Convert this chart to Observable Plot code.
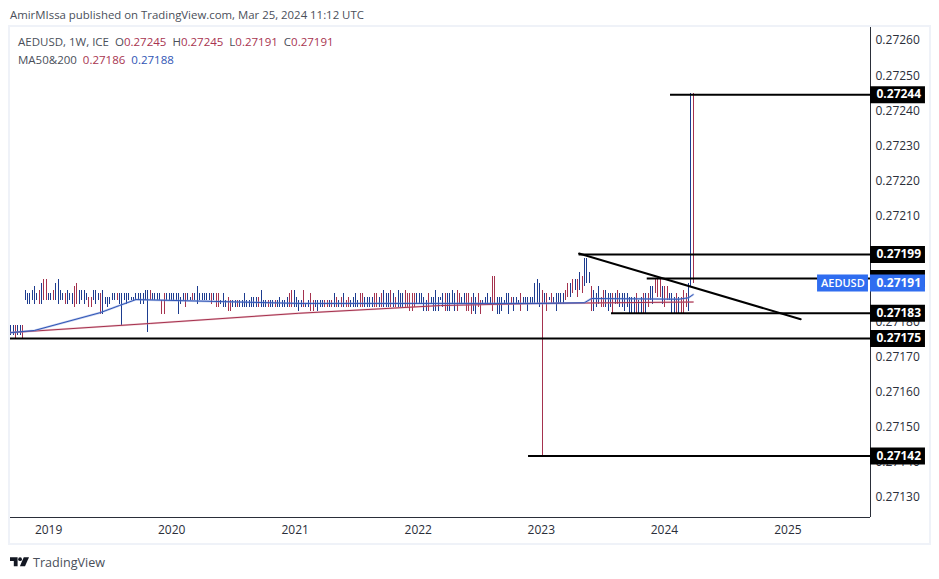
<!DOCTYPE html>
<html>
<head>
<meta charset="utf-8">
<script src="https://cdn.jsdelivr.net/npm/d3@7"></script>
<script src="https://cdn.jsdelivr.net/npm/@observablehq/plot@0.6"></script>
<style>
  html, body { margin: 0; padding: 0; background: #fff; width: 939px; height: 579px; overflow: hidden; font-family: "Open Sans", sans-serif; color: #131722; }
  #publish { height: 27px; box-sizing: border-box; padding: 7px 0 0 10px; font-size: 11.4px; line-height: 16px; color: #4a4f5a; white-space: nowrap; }
  #chart { position: relative; width: 939px; height: 516px; }
  #chart svg { display: block; }
  #border { position: absolute; left: 8px; top: -2px; width: 919px; height: 516px; border: 2px solid #eff2f8; pointer-events: none; }
  #legend { position: absolute; left: 18px; top: 6px; font-size: 11.5px; line-height: 18px; color: #4a4f5a; white-space: pre; }
  #legend .r { color: #a8344f; }
  #legend .b { color: #2f55b5; }
  #footer { height: 36px; box-sizing: border-box; padding: 2px 0 0 10px; display: flex; align-items: center; gap: 4px; font-size: 12.6px; color: #4a4f5a; }
  #footer svg { display: block; }
</style>
</head>
<body>
<div id="publish">AmirMIssa published on TradingView.com, Mar 25, 2024 11:12 UTC</div>
<div id="chart">
  <div id="legend">AEDUSD, 1W, ICE  O<span class="r">0.27245</span>  H<span class="r">0.27245</span>  L<span class="r">0.27191</span>  C<span class="r">0.27191</span>
MA50&amp;200  <span class="r">0.27186</span>  <span class="b">0.27188</span></div>
  <div id="border"></div>
</div>
<div id="footer">
  <svg width="19" height="10" viewBox="0 0 20 10"><path fill="#131722" d="M0 0h8v9.5H4V4H0z"/><circle cx="10.6" cy="2" r="2" fill="#131722"/><path fill="#131722" d="M14.5 0H20l-4.2 9.5H10.4z"/></svg>
  <span>TradingView</span>
</div>
<script>
// Weekly bars. Values are in 0.00001 above 0.27100.
const firstWeek = "2018-09-11";
const barHigh = [
  79,79,79,79,79,79,89,88,88,89,
  90,88,89,91,92,92,88,88,89,91,
  92,89,88,88,89,88,88,90,91,89,
  89,89,88,87,87,89,89,88,88,89,
  87,87,87,88,88,88,88,88,88,88,
  88,87,87,88,88,88,88,89,89,89,
  88,88,88,88,86,88,88,88,88,88,
  88,88,87,88,88,88,87,88,88,90,
  88,88,88,88,88,88,88,88,88,86,
  88,86,87,86,86,86,86,86,86,88,
  86,86,87,87,87,87,89,86,86,86,
  86,86,86,86,87,86,86,87,88,89,
  89,87,86,86,89,85,86,88,86,86,
  86,86,86,86,86,86,86,88,87,86,
  87,88,86,87,86,87,88,86,88,88,
  87,87,87,87,88,88,87,88,89,88,
  88,89,88,87,89,88,88,89,88,88,
  88,88,88,88,88,87,86,88,87,87,
  89,87,87,88,88,88,88,89,88,89,
  88,87,88,88,88,87,88,87,88,86,
  86,87,88,87,93,93,87,87,87,86,
  88,88,87,87,87,86,88,87,87,87,
  87,87,91,92,91,89,88,88,87,88,
  87,88,88,88,88,89,91,91,92,92,
  92,94,93,98,98,94,90,89,88,90,
  87,89,89,88,88,88,88,89,88,88,
  88,88,87,87,87,88,86,87,88,88,
  88,90,90,92,92,92,90,90,90,88,
  88,87,88,87,87,89,88,91,145,145
];
const barLow = [
  76,76,75,76,76,75,86,85,85,86,
  85,86,85,85,86,86,86,86,86,86,
  85,86,86,85,85,86,85,84,85,85,
  86,85,86,84,84,86,85,86,82,82,
  85,84,85,86,86,86,85,79,86,85,
  86,86,86,86,86,85,85,86,77,86,
  86,86,86,86,82,82,86,86,86,86,
  86,82,85,86,84,86,86,86,86,85,
  86,86,86,86,86,85,86,84,84,85,
  84,84,83,83,84,84,84,84,84,84,
  84,84,84,84,84,84,84,84,84,84,
  84,84,84,84,84,84,84,84,84,84,
  84,84,83,84,84,84,84,83,83,84,
  83,84,84,84,84,84,84,84,84,84,
  84,84,84,84,84,84,84,84,84,84,
  84,84,84,84,84,84,84,84,84,84,
  84,84,84,84,84,84,84,84,84,83,
  83,84,85,85,85,83,83,83,85,83,
  83,83,86,84,83,83,83,85,83,83,
  85,85,85,83,83,82,83,82,84,82,
  85,85,85,85,83,85,82,82,83,85,
  85,82,85,83,85,85,83,85,85,83,
  85,85,85,85,84,42,85,83,86,85,
  85,83,85,85,85,86,87,87,88,89,
  87,89,88,90,91,91,83,83,84,85,
  84,84,84,83,84,82,85,85,84,84,
  83,84,82,82,82,82,82,82,82,82,
  84,86,85,88,87,87,85,84,86,86,
  82,82,82,82,82,82,84,83,90,91
];
const downWeeks = [2,5,12,14,15,18,23,27,28,33,34,38,45,59,64,65,74,77,85,87,88,92,93,96,105,109,112,118,119,124,127,128,133,134,136,138,140,142,143,148,149,154,155,157,161,163,167,168,169,170,171,177,184,189,190,193,194,195,198,199,204,205,212,216,225,227,229,235,236,238,240,242,246,250,251,255,257,265,268,270,273,274,275,277,278,282,284,285,286,289];

// Moving averages: week number, value
const ma200Weeks = [0,59,122,182,224,289];
const ma200Values = [76.9,79.5,82.4,84.6,85.2,85.6];
const ma50Weeks = [0,10,38,46,53,122,224,243,246,283,287,289];
const ma50Values = [76.9,77.5,82.6,84.6,86.3,85.2,85.2,85.4,86.6,86.4,86.8,87.7];

// Hand-drawn lines on the chart
const levelPrices = [0.272446, 0.271991, 0.271923, 0.271824, 0.271752, 0.271418];
const levelStarts = ["2024-01-19","2023-04-23","2023-11-11","2023-07-28","2018-09-10","2022-11-24"];
const levelLabels = ["0.27244","0.27199","","0.27183","0.27175","0.27142"];
const trendDates = ["2023-04-23","2025-02-08"];
const trendPrices = [0.271994, 0.271807];

// Axes
const priceTicks = [0.2713,0.2714,0.2715,0.2716,0.2717,0.2718,0.2721,0.2722,0.2723,0.2724,0.2725,0.2726];
const yearTicks = [2019,2020,2021,2022,2023,2024,2025];
const timeDomain = ["2018-09-10","2025-09-03"];
const priceDomain = [0.271243,0.272637];
const lastClose = 0.27191;
const symbolName = "AEDUSD";
const axisEndDate = "2026-02-13";
const tagStart = "2025-03-30";
const tagEnd = "2025-08-28";
const tagMiddle = "2025-06-13";

const D = s => new Date(s + "T00:00:00Z");
const weekDate = i => new Date(D(firstWeek).getTime() + i * 7 * 864e5);
const price = n => (27100 + n) / 1e5;
const blue = "#1d3c8f", red = "#a5324e", ink = "#131722";
const xEnd = D(timeDomain[1]);

const bars = barHigh.map((h, i) => ({date: weekDate(i), high: price(h), low: price(barLow[i]), down: downWeeks.includes(i)}));
const ma200 = ma200Weeks.map((w, i) => ({date: weekDate(w), value: price(ma200Values[i])}));
const ma50 = ma50Weeks.map((w, i) => ({date: weekDate(w), value: price(ma50Values[i])}));
const levels = levelPrices.map((p, i) => ({price: p, start: D(levelStarts[i]), label: levelLabels[i]}));
const trend = trendDates.map((d, i) => ({date: D(d), price: trendPrices[i]}));

const plot = Plot.plot({
  width: 939,
  height: 516,
  marginLeft: 10,
  marginRight: 69,
  marginTop: 0,
  marginBottom: 26,
  style: {background: "transparent", fontFamily: '"Open Sans", sans-serif', fontSize: "12px", color: ink, overflow: "visible"},
  x: {type: "utc", domain: timeDomain.map(D)},
  y: {domain: priceDomain},
  marks: [
    Plot.axisY({anchor: "right", ticks: priceTicks, tickFormat: d3.format(".5f"), tickSize: 0, tickPadding: 5, label: null, fill: "#2a2e39"}),
    Plot.axisX({ticks: yearTicks.map(y => new Date(Date.UTC(y, 0, 1))), tickFormat: d3.utcFormat("%Y"), tickSize: 0, tickPadding: 8, label: null, fill: "#2a2e39"}),
    Plot.ruleY([priceDomain[0]], {stroke: "#2a2e39", strokeWidth: 1}),
    Plot.ruleX([xEnd], {stroke: "#2a2e39", strokeWidth: 1}),
    Plot.ruleX(bars, {x: "date", y1: "low", y2: "high", stroke: d => d.down ? red : blue, strokeWidth: 1, shapeRendering: "crispEdges"}),
    Plot.line(ma200, {x: "date", y: "value", stroke: "#d98a9e", strokeWidth: 2, strokeOpacity: 0.45}),
    Plot.line(ma200, {x: "date", y: "value", stroke: red, strokeWidth: 1}),
    Plot.line(ma50, {x: "date", y: "value", stroke: "#7d96dc", strokeWidth: 2.2, strokeOpacity: 0.5}),
    Plot.line(ma50, {x: "date", y: "value", stroke: "#2f55b5", strokeWidth: 1}),
    Plot.ruleY(levels, {y: "price", x1: "start", x2: () => xEnd, stroke: "#000", strokeWidth: 2}),
    Plot.line(trend, {x: "date", y: "price", stroke: "#000", strokeWidth: 2}),
    Plot.ruleY(levels, {y: "price", x1: () => xEnd, x2: () => D(axisEndDate), stroke: "#000", strokeWidth: 17}),
    Plot.text(levels, {x: () => xEnd, y: "price", text: "label", textAnchor: "start", dx: 6, fill: "#fff", fontWeight: 700, fontSize: 12}),
    Plot.ruleY([lastClose], {x1: () => xEnd, x2: () => D(axisEndDate), stroke: "#2f6df0", strokeWidth: 17}),
    Plot.text([lastClose], {x: () => xEnd, y: d => d, text: d => d.toFixed(5), textAnchor: "start", dx: 6, fill: "#fff", fontWeight: 700, fontSize: 12}),
    Plot.ruleY([lastClose], {x1: () => D(tagStart), x2: () => D(tagEnd), stroke: "#2f6df0", strokeWidth: 17}),
    Plot.text([lastClose], {x: () => D(tagMiddle), y: d => d, text: () => symbolName, fill: "#fff", fontWeight: 600, fontSize: 11})
  ]
});
document.getElementById("chart").prepend(plot);
</script>
</body>
</html>
